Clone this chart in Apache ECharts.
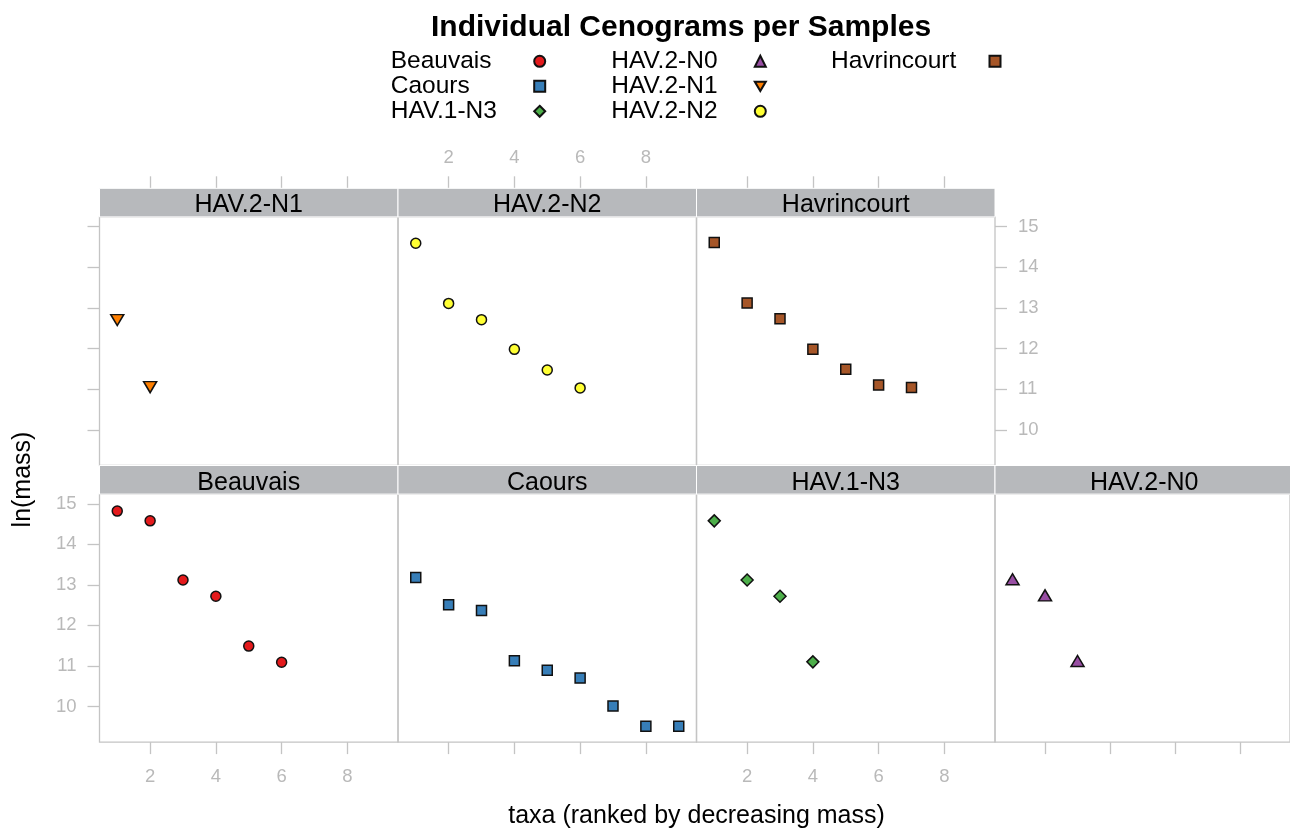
<!DOCTYPE html>
<html><head><meta charset="utf-8">
<script src="https://cdn.jsdelivr.net/npm/echarts@6/dist/echarts.min.js"></script>
<style>html,body{margin:0;padding:0;background:#fff}#c{width:1290px;height:829px}</style>
</head><body><div id="c"></div>
<script>
// ---------- data ----------
const panels = ['HAV.2-N1', 'HAV.2-N2', 'Havrincourt', 'Beauvais', 'Caours', 'HAV.1-N3', 'HAV.2-N0'];
const beauvais    = [14.82, 14.58, 13.12, 12.72, 11.49, 11.09];
const caours      = [13.18, 12.51, 12.37, 11.13, 10.89, 10.70, 10.01, 9.51, 9.51];
const hav1n3      = [14.58, 13.12, 12.72, 11.10];
const hav2n0      = [13.14, 12.74, 11.12];
const hav2n1      = [12.70, 11.05];
const hav2n2      = [14.59, 13.11, 12.71, 11.98, 11.47, 11.03];
const havrincourt = [14.61, 13.12, 12.73, 11.98, 11.49, 11.10, 11.04];
const xTicks = [2, 4, 6, 8];
const yTicks = [10, 11, 12, 13, 14, 15];
const legendCol1 = ['Beauvais', 'Caours', 'HAV.1-N3'];
const legendCol2 = ['HAV.2-N0', 'HAV.2-N1', 'HAV.2-N2'];
const legendCol3 = ['Havrincourt'];
const titleText = 'Individual Cenograms per Samples';
const xTitle = 'taxa (ranked by decreasing mass)';
const yTitle = 'ln(mass)';

const values = {
  'Beauvais': beauvais, 'Caours': caours, 'HAV.1-N3': hav1n3, 'HAV.2-N0': hav2n0,
  'HAV.2-N1': hav2n1, 'HAV.2-N2': hav2n2, 'Havrincourt': havrincourt
};

// ---------- styles ----------
const colors = {
  'Beauvais': '#E41A1C', 'Caours': '#377EB8', 'HAV.1-N3': '#4DAF4A', 'HAV.2-N0': '#984EA3',
  'HAV.2-N1': '#FF7F00', 'HAV.2-N2': '#FFFF33', 'Havrincourt': '#A65628'
};
const symbols = {
  'Beauvais': ['circle', 10], 'Caours': ['rect', 10], 'HAV.1-N3': ['diamond', [12, 12]],
  'HAV.2-N0': ['triangle', [13, 11]], 'HAV.2-N1': ['path://M0,0L10,0L5,8.5Z', [13, 11]],
  'HAV.2-N2': ['circle', 10], 'Havrincourt': ['rect', 10]
};
const FONT = '"Liberation Sans", Arial, sans-serif';
const borderCol = '#c4c4c4';
const tickCol = '#c4c4c4';
const labelCol = '#b9b9b9';
const stripCol = '#b7b9bc';

// ---------- layout ----------
const colLeft = [99.5, 398, 696.5, 995];
const colW = 298.5;
const rowStripTop = [188.3, 465.5];
const stripH = 28.6;
const plotH = [248.6, 248];
const panelPos = [[0,0],[0,1],[0,2],[1,0],[1,1],[1,2],[1,3]];
const xRange = [0.46, 9.54];
const yRange = [9.12, 15.24];
const xLabelPanels = [1, 3, 5];

const grids = [], xAxes = [], yAxes = [], series = [], graphics = [];
panels.forEach((name, i) => {
  const [r, c] = panelPos[i];
  const top = rowStripTop[r] + stripH;
  grids.push({
    left: colLeft[c], top: top, width: colW, height: plotH[r],
    show: true, borderColor: borderCol, borderWidth: 1.3, backgroundColor: 'transparent'
  });
  xAxes.push({
    gridIndex: i, type: 'value', min: xRange[0], max: xRange[1],
    position: r === 0 ? 'top' : 'bottom', offset: r === 0 ? stripH : 0,
    axisLine: { show: false }, splitLine: { show: false },
    axisTick: { show: true, length: 12, customValues: xTicks, lineStyle: { color: tickCol, width: 1.3 } },
    axisLabel: {
      show: xLabelPanels.includes(i), customValues: xTicks, margin: r === 0 ? 21 : 25,
      color: labelCol, fontSize: 18.5, fontFamily: FONT
    }
  });
  let yShow = false, yPos = 'left', yLab = false;
  if (i === 0) { yShow = true; yPos = 'left'; yLab = false; }
  if (i === 3) { yShow = true; yPos = 'left'; yLab = true; }
  if (i === 2) { yShow = true; yPos = 'right'; yLab = true; }
  yAxes.push({
    gridIndex: i, type: 'value', min: yRange[0], max: yRange[1], position: yPos,
    axisLine: { show: false }, splitLine: { show: false },
    axisTick: { show: yShow, length: 12, customValues: yTicks, lineStyle: { color: tickCol, width: 1.3 } },
    axisLabel: {
      show: yLab, customValues: yTicks, margin: 23,
      color: labelCol, fontSize: 18.5, fontFamily: FONT
    }
  });
  series.push({
    name: name, type: 'scatter', xAxisIndex: i, yAxisIndex: i,
    symbol: symbols[name][0], symbolSize: symbols[name][1],
    itemStyle: { color: colors[name], borderColor: '#111', borderWidth: 1.5, opacity: 1 },
    emphasis: { disabled: true },
    data: values[name].map((v, k) => [k + 1, v])
  });
  // strip
  graphics.push({
    type: 'rect', silent: true, z: 1,
    shape: { x: colLeft[c], y: rowStripTop[r], width: colW, height: stripH },
    style: { fill: stripCol, stroke: '#ffffff', lineWidth: 1 }
  });
  graphics.push({
    type: 'text', silent: true, z: 2,
    x: colLeft[c] + colW / 2, y: rowStripTop[r] + 17.3,
    style: { text: name, fill: '#000', font: '25px ' + FONT, align: 'center', verticalAlign: 'middle' }
  });
});

// axis titles
graphics.push({
  type: 'text', silent: true, x: (colLeft[0] + colLeft[3] + colW) / 2, y: 816,
  style: { text: xTitle, fill: '#000', font: '25px ' + FONT, align: 'center', verticalAlign: 'middle' }
});
graphics.push({
  type: 'text', silent: true, x: 23, y: (rowStripTop[0] + stripH + rowStripTop[1] + stripH + plotH[1]) / 2,
  rotation: Math.PI / 2,
  style: { text: yTitle, fill: '#000', font: '25px ' + FONT, align: 'center', verticalAlign: 'middle' }
});

function legendOf(items, left, w) {
  return {
    data: items, left: left, top: 48.8, orient: 'vertical', align: 'right',
    itemGap: 0, padding: 0, itemWidth: 11, itemHeight: 11, selectedMode: false,
    formatter: n => '{a|' + n + '}',
    textStyle: { rich: { a: { width: w, align: 'left', fontSize: 24.5, lineHeight: 25.8, fontFamily: FONT, color: '#000' } } }
  };
}

const chart = echarts.init(document.getElementById('c'), null, { renderer: 'canvas' });
chart.setOption({
  animation: false,
  backgroundColor: '#ffffff',
  title: {
    text: titleText, left: 431, top: 12.5, padding: 0,
    textStyle: { fontSize: 30, fontWeight: 'bold', color: '#000', fontFamily: FONT }
  },
  legend: [legendOf(legendCol1, 390.7, 138.5), legendOf(legendCol2, 611.3, 138.5), legendOf(legendCol3, 831, 153.5)],
  tooltip: { show: false },
  grid: grids, xAxis: xAxes, yAxis: yAxes, series: series,
  graphic: graphics
});
</script></body></html>
